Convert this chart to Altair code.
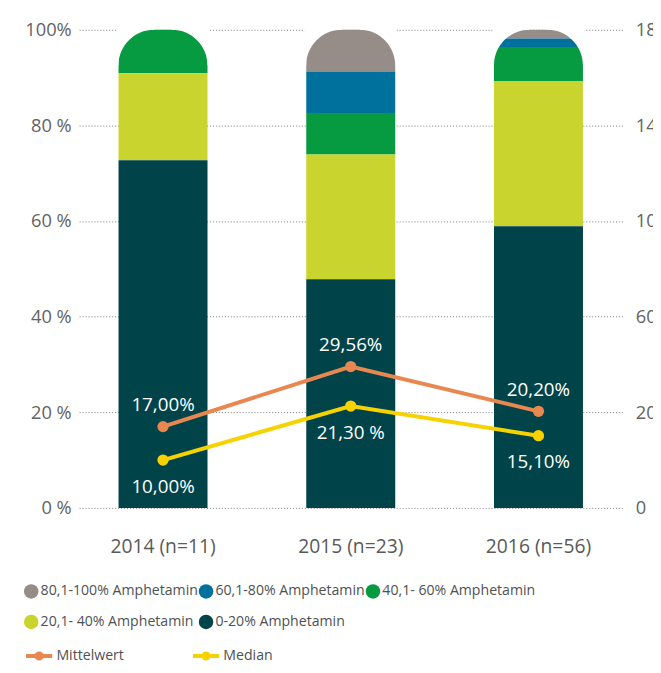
import json
import altair as alt
import pandas as pd

# ---------------- data ----------------
years = ["2014 (n=11)", "2015 (n=23)", "2016 (n=56)"]

# categories, legend order (top of stack first)
categories = ["80,1-100% Amphetamin", "60,1-80% Amphetamin", "40,1- 60% Amphetamin",
              "20,1- 40% Amphetamin", "0-20% Amphetamin"]
cat_colors = ["#968c88", "#00719c", "#069b40", "#c9d42f", "#00444a"]

share_80_100 = [0.0, 8.7, 1.8]
share_60_80 = [0.0, 8.7, 1.8]
share_40_60 = [9.1, 8.7, 7.1]
share_20_40 = [18.2, 26.1, 30.4]
share_0_20 = [72.7, 47.8, 58.9]

series = ["Mittelwert", "Median"]
series_colors = ["#e8874f", "#f6d300"]
mean_values = [17.00, 29.56, 20.20]
median_values = [10.00, 21.30, 15.10]
mean_labels = ["17,00%", "29,56%", "20,20%"]
median_labels = ["10,00%", "21,30 %", "15,10%"]

left_ticks = [0, 20, 40, 60, 80, 100]
left_tick_labels = ["0 %", "20 %", "40 %", "60 %", "80 %", "100%"]
right_tick_labels = ["0", "20", "60", "100", "140", "180"]

FONT = "Open Sans"

# ---------------- tables ----------------
shares = [share_80_100, share_60_80, share_40_60, share_20_40, share_0_20]
bar_rows = []
for ci, (cat, vals) in enumerate(zip(categories, shares)):
    for yi, yr in enumerate(years):
        if vals[yi] > 0:
            bar_rows.append({"year": yr, "cat": cat, "share": vals[yi],
                             "stack_order": len(categories) - 1 - ci})
bars_df = pd.DataFrame(bar_rows)

mask_df = pd.DataFrame({"year": years, "top": [max(left_ticks)] * len(years)})

line_rows = []
for s, vals, labs in [(series[0], mean_values, mean_labels),
                      (series[1], median_values, median_labels)]:
    for yr, v, lab in zip(years, vals, labs):
        line_rows.append({"year": yr, "series": s, "value": v, "label": lab})
lines_df = pd.DataFrame(line_rows)

left_expr = f"{json.dumps(left_tick_labels)}[indexof({json.dumps(left_ticks)}, datum.value)]"
right_expr = f"{json.dumps(right_tick_labels)}[indexof({json.dumps(left_ticks)}, datum.value)]"

x_enc = alt.X("year:N", sort=years, title=None,
              scale=alt.Scale(paddingInner=0.526, paddingOuter=0.21),
              axis=alt.Axis(labelAngle=0, ticks=False, domain=False, labelPadding=30,
                            labelFont=FONT, labelFontSize=19.5, labelColor="#5a5a5a"))
y_scale = alt.Scale(domain=[0, 100], nice=False)

bars = alt.Chart(bars_df).mark_bar(stroke=None).encode(
    x=x_enc,
    y=alt.Y("share:Q", stack="zero", scale=y_scale, title=None,
            axis=alt.Axis(values=left_ticks, labelExpr=left_expr, grid=True,
                          gridDash=[1, 2], gridColor="#7a7a7a", gridWidth=1,
                          ticks=False, domain=False, labelPadding=8,
                          labelFont=FONT, labelFontSize=18.5, labelColor="#636363")),
    fill=alt.Fill("cat:N", scale=alt.Scale(domain=categories, range=cat_colors),
                  legend=alt.Legend(title=None, orient="none", direction="horizontal",
                                    legendX=-56, legendY=561, gridAlign="each",
                                    columns=3, symbolType="circle", symbolSize=215,
                                    symbolStrokeWidth=0, symbolOpacity=1,
                                    labelFont=FONT, labelFontSize=14.3,
                                    labelColor="#505153", columnPadding=-19,
                                    rowPadding=16, labelOffset=2, padding=0,
                                    labelLimit=400)),
    order=alt.Order("stack_order:Q", sort="ascending"),
)

# white corner masks giving the stacks their rounded tops
r = 0.8
a = -1 + r
mask_path = (f"M -1.03 -1.03 L {a} -1.03 L {a} -1 A {r} {r} 0 0 0 -1 {a} L -1.03 {a} Z "
             f"M 1.03 -1.03 L {-a} -1.03 L {-a} -1 A {r} {r} 0 0 1 1 {a} L 1.03 {a} Z")
mask = alt.Chart(mask_df).mark_point(
    shape=mask_path, size=90.1 * 90.1, filled=True, fill="white", opacity=1,
    strokeWidth=0, yOffset=45
).encode(
    x=alt.X("year:N", sort=years),
    y=alt.Y("top:Q", scale=y_scale, axis=None),
)

legend_line_symbol = ("M -1 0 L 1 0 M 0.2 0 A 0.2 0.2 0 1 1 -0.2 0 "
                      "A 0.2 0.2 0 1 1 0.2 0")
lines = alt.Chart(lines_df).mark_line(strokeWidth=4).encode(
    x=alt.X("year:N", sort=years),
    y=alt.Y("value:Q", scale=y_scale, title=None,
            axis=alt.Axis(orient="right", values=left_ticks, labelExpr=right_expr,
                          grid=False, ticks=False, domain=False, labelPadding=13,
                          labelFont=FONT, labelFontSize=18.5, labelColor="#636363")),
    stroke=alt.Stroke("series:N", scale=alt.Scale(domain=series, range=series_colors),
                      legend=alt.Legend(title=None, orient="none", direction="horizontal",
                                        legendX=-56, legendY=618, columns=2,
                                        symbolType=legend_line_symbol, symbolSize=700,
                                        symbolStrokeWidth=4, labelFont=FONT,
                                        labelFontSize=14.3, labelColor="#505153",
                                        columnPadding=61, labelOffset=2, padding=0)),
    detail="series:N",
)

points = alt.Chart(lines_df).mark_point(filled=True, size=130, opacity=1).encode(
    x=alt.X("year:N", sort=years),
    y=alt.Y("value:Q", scale=y_scale, axis=None),
    color=alt.Color("series:N", scale=alt.Scale(domain=series, range=series_colors),
                    legend=None),
)

text_mean = alt.Chart(lines_df).transform_filter(
    alt.datum.series == series[0]
).mark_text(dy=-22, color="white", font=FONT, fontSize=19).encode(
    x=alt.X("year:N", sort=years),
    y=alt.Y("value:Q", scale=y_scale, axis=None),
    text="label:N",
)
text_median = alt.Chart(lines_df).transform_filter(
    alt.datum.series == series[1]
).mark_text(dy=27, color="white", font=FONT, fontSize=19).encode(
    x=alt.X("year:N", sort=years),
    y=alt.Y("value:Q", scale=y_scale, axis=None),
    text="label:N",
)

chart = alt.layer(bars, mask, lines, points, text_mean, text_median).resolve_axis(
    y="independent"
).properties(
    width=550, height=484,
    autosize=alt.AutoSizeParams(type="none"),
    padding={"left": 72, "top": 18, "right": 31, "bottom": 157},
    background="white",
).configure_view(stroke=None)

chart.save("out.html", embed_options={"renderer": "svg", "actions": False})
